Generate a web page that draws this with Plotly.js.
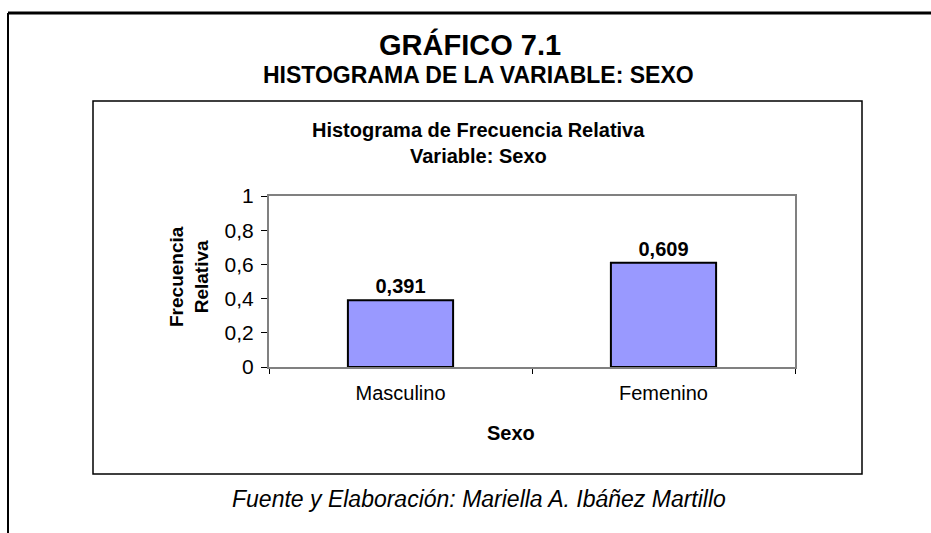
<!DOCTYPE html>
<html>
<head>
<meta charset="utf-8">
<script src="https://cdn.plot.ly/plotly-3.0.1.min.js"></script>
<style>html,body{margin:0;padding:0;background:#fff;}</style>
</head>
<body>
<div id="chart" style="width:931px;height:533px;"></div>
<script>
const categories = ["Masculino", "Femenino"];
const values = [0.391, 0.609];
const yTicks = [0, 0.2, 0.4, 0.6, 0.8, 1];
const mainTitle = "GRÁFICO 7.1";
const subTitle = "HISTOGRAMA DE LA VARIABLE: SEXO";
const chartTitle = "Histograma de Frecuencia Relativa";
const chartSubTitle = "Variable: Sexo";
const xTitle = "Sexo";
const yTitle = "Frecuencia<br>Relativa";
const footer = "Fuente y Elaboración: Mariella A. Ibáñez Martillo";

const W = 931, H = 533;
const L = 269, R = 795, T = 196, B = 367;
const px = x => (x - L) / (R - L);
const py = y => (B - y) / (B - T);
const FONT = "Liberation Sans, Arial, sans-serif";

const labels = values.map(v => "<b>" + String(v).replace(".", ",") + "</b>");

const trace = {
  type: "bar",
  x: categories,
  y: values,
  text: labels,
  textposition: "outside",
  cliponaxis: false,
  textfont: {family: FONT, size: 20, color: "#000"},
  marker: {color: "#9999FF", line: {color: "#000", width: 2}},
  width: 0.4,
  hoverinfo: "skip"
};

const layout = {
  width: W, height: H,
  margin: {l: L, r: W - R, t: T, b: H - B, pad: 0},
  paper_bgcolor: "#fff",
  plot_bgcolor: "#fff",
  showlegend: false,
  separators: ",.",
  font: {family: FONT, color: "#000"},
  bargap: 0.6,
  xaxis: {
    type: "category",
    showline: true, linecolor: "#808080", linewidth: 2, mirror: true,
    ticks: "outside", tickson: "boundaries", ticklen: 5, tickcolor: "#000", tickwidth: 1,
    tickfont: {family: FONT, size: 20, color: "#000"},
    ticklabelstandoff: 7,
    showgrid: false, zeroline: false, fixedrange: true
  },
  yaxis: {
    range: [0, 1],
    tickvals: yTicks,
    showline: true, linecolor: "#808080", linewidth: 2, mirror: true,
    ticks: "outside", ticklen: 6, tickcolor: "#000", tickwidth: 1,
    tickfont: {family: FONT, size: 21, color: "#000"},
    ticklabelstandoff: 3,
    showgrid: false, zeroline: false, fixedrange: true
  },
  shapes: [
    {type: "line", xref: "paper", yref: "paper", x0: px(8), x1: px(931), y0: py(13), y1: py(13), line: {color: "#000", width: 3}},
    {type: "line", xref: "paper", yref: "paper", x0: px(8), x1: px(8), y0: py(13), y1: py(533), line: {color: "#000", width: 2}},
    {type: "rect", xref: "paper", yref: "paper", x0: px(93), x1: px(862), y0: py(101), y1: py(474), line: {color: "#000", width: 1.5}, fillcolor: "rgba(0,0,0,0)"}
  ],
  annotations: [
    {text: "<b>" + mainTitle + "</b>", xref: "paper", yref: "paper", x: px(470), y: py(44), xanchor: "center", yanchor: "middle", showarrow: false, font: {family: FONT, size: 29, color: "#000"}},
    {text: "<b>" + subTitle + "</b>", xref: "paper", yref: "paper", x: px(478), y: py(75), xanchor: "center", yanchor: "middle", showarrow: false, font: {family: FONT, size: 23, color: "#000"}},
    {text: "<b>" + chartTitle + "</b>", xref: "paper", yref: "paper", x: px(478), y: py(130), xanchor: "center", yanchor: "middle", showarrow: false, font: {family: FONT, size: 20, color: "#000"}},
    {text: "<b>" + chartSubTitle + "</b>", xref: "paper", yref: "paper", x: px(478), y: py(156), xanchor: "center", yanchor: "middle", showarrow: false, font: {family: FONT, size: 20, color: "#000"}},
    {text: "<b>" + xTitle + "</b>", xref: "paper", yref: "paper", x: px(511), y: py(433), xanchor: "center", yanchor: "middle", showarrow: false, font: {family: FONT, size: 20, color: "#000"}},
    {text: "<b>" + yTitle + "</b>", xref: "paper", yref: "paper", x: px(189), y: py(277), xanchor: "center", yanchor: "middle", textangle: -90, showarrow: false, font: {family: FONT, size: 19, color: "#000"}},
    {text: "<i>" + footer + "</i>", xref: "paper", yref: "paper", x: px(479), y: py(499), xanchor: "center", yanchor: "middle", showarrow: false, font: {family: FONT, size: 23, color: "#000"}}
  ]
};

Plotly.newPlot("chart", [trace], layout, {displayModeBar: false, staticPlot: true});
</script>
</body>
</html>
